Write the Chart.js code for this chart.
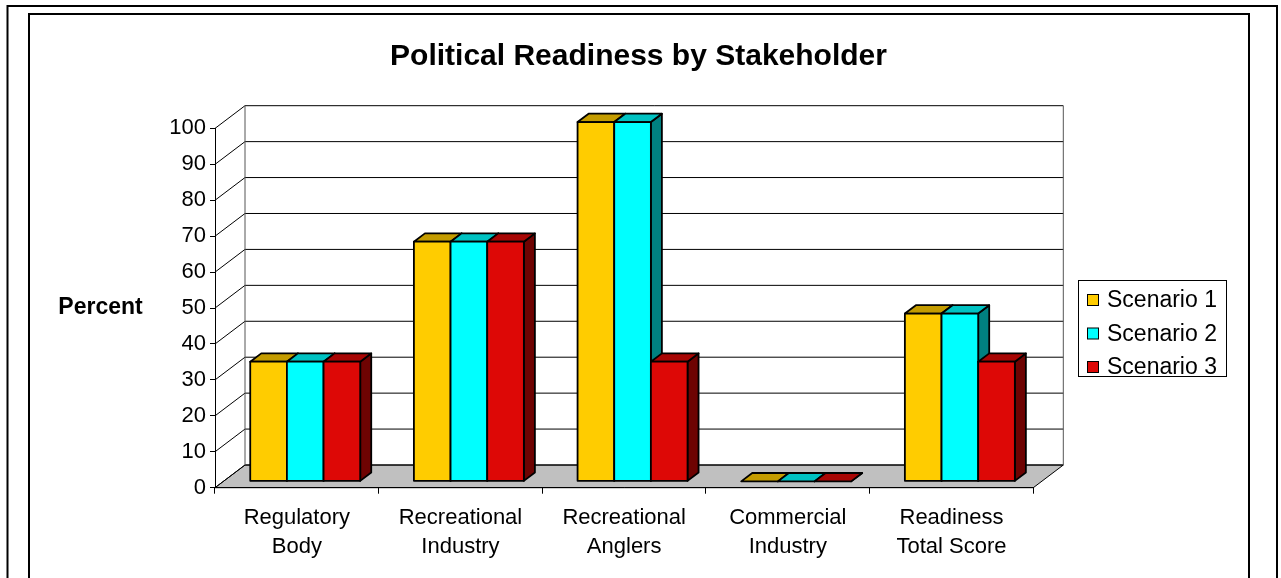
<!DOCTYPE html>
<html>
<head>
<meta charset="utf-8">
<script src="https://cdn.jsdelivr.net/npm/chart.js@4.4.1/dist/chart.umd.min.js"></script>
<style>
  html, body { margin: 0; padding: 0; background: #ffffff; }
  canvas { display: block; }
</style>
</head>
<body>
<canvas id="chart" width="1281" height="578"></canvas>
<script>
// ---- data ----
const categories = [
  ['Regulatory', 'Body'],
  ['Recreational', 'Industry'],
  ['Recreational', 'Anglers'],
  ['Commercial', 'Industry'],
  ['Readiness', 'Total Score']
];
const seriesNames = ['Scenario 1', 'Scenario 2', 'Scenario 3'];
const scenario1 = [33.3, 66.7, 100, 0, 46.7];
const scenario2 = [33.3, 66.7, 100, 0, 46.7];
const scenario3 = [33.3, 66.7, 33.3, 0, 33.3];
const yMin = 0, yMax = 100, yStep = 10;

const chartTitle = 'Political Readiness by Stakeholder';
const yTitle = 'Percent';

// ---- styling ----
const frontColors = ['#FFCC00', '#00FFFF', '#DD0806'];
const topColors   = ['#C49C00', '#00C2C2', '#A80604'];
const sideColors  = ['#7F6600', '#008080', '#6E0302'];
const FONT = '"Liberation Sans", Arial, sans-serif';

// oblique offset of the back wall from the front plane
const DEPTH_X = 30, DEPTH_Y = 22.7;
// where the bars sit inside that depth (fractions of it)
const BAR_FRONT = 0.28, BAR_DEPTH = 0.367;

const W = 1281, H = 578;
const plotLeft = 215, plotRight = 1033.3, plotTop = 128.4, plotBottom = 487.7;

function line(ctx, x1, y1, x2, y2) {
  ctx.beginPath();
  ctx.moveTo(x1, y1);
  ctx.lineTo(x2, y2);
  ctx.stroke();
}

const box3d = {
  id: 'box3d',
  beforeDraw(chart) {
    const { ctx, chartArea: a, scales: { y } } = chart;
    ctx.save();
    ctx.fillStyle = '#ffffff';
    ctx.fillRect(0, 0, chart.width, chart.height);

    // floor
    ctx.beginPath();
    ctx.moveTo(a.left, a.bottom);
    ctx.lineTo(a.right, a.bottom);
    ctx.lineTo(a.right + DEPTH_X, a.bottom - DEPTH_Y);
    ctx.lineTo(a.left + DEPTH_X, a.bottom - DEPTH_Y);
    ctx.closePath();
    ctx.fillStyle = '#C0C0C0';
    ctx.fill();
    ctx.strokeStyle = '#000';
    ctx.lineWidth = 1;
    ctx.stroke();

    // back wall grid and the diagonals joining it to the value axis
    y.ticks.forEach(t => {
      const py = y.getPixelForValue(t.value);
      line(ctx, a.left, py, a.left + DEPTH_X, py - DEPTH_Y);
      line(ctx, a.left + DEPTH_X, py - DEPTH_Y, a.right + DEPTH_X, py - DEPTH_Y);
    });
    // back wall side edges
    ctx.strokeStyle = '#555';
    line(ctx, a.left + DEPTH_X, a.top - DEPTH_Y, a.left + DEPTH_X, a.bottom - DEPTH_Y);
    line(ctx, a.right + DEPTH_X, a.top - DEPTH_Y, a.right + DEPTH_X, a.bottom - DEPTH_Y);
    ctx.restore();
  },
  beforeDatasetDraw() {
    // flat bars are replaced by the 3D blocks drawn below
    return false;
  },
  afterDatasetsDraw(chart) {
    const { ctx } = chart;
    const ox = BAR_FRONT * DEPTH_X, oy = BAR_FRONT * DEPTH_Y;
    const bx = BAR_DEPTH * DEPTH_X, by = BAR_DEPTH * DEPTH_Y;
    ctx.save();
    ctx.lineWidth = 1.8;
    ctx.strokeStyle = '#000';
    ctx.lineJoin = 'round';
    const n = chart.data.labels.length;
    for (let i = 0; i < n; i++) {
      chart.data.datasets.forEach((ds, d) => {
        const el = chart.getDatasetMeta(d).data[i];
        const l = el.x - el.width / 2 + ox;
        const r = el.x + el.width / 2 + ox;
        const t = el.y - oy;
        const b = el.base - oy;
        // side
        ctx.beginPath();
        ctx.moveTo(r, t); ctx.lineTo(r + bx, t - by); ctx.lineTo(r + bx, b - by); ctx.lineTo(r, b);
        ctx.closePath();
        ctx.fillStyle = sideColors[d]; ctx.fill(); ctx.stroke();
        // top
        ctx.beginPath();
        ctx.moveTo(l, t); ctx.lineTo(l + bx, t - by); ctx.lineTo(r + bx, t - by); ctx.lineTo(r, t);
        ctx.closePath();
        ctx.fillStyle = topColors[d]; ctx.fill(); ctx.stroke();
        // front
        if (b - t > 0.5) {
          ctx.beginPath();
          ctx.rect(l, t, r - l, b - t);
          ctx.fillStyle = frontColors[d]; ctx.fill(); ctx.stroke();
        }
      });
    }
    ctx.restore();
  },
  afterDraw(chart) {
    const { ctx } = chart;
    ctx.save();
    // title
    ctx.fillStyle = '#000';
    ctx.textAlign = 'center';
    ctx.textBaseline = 'middle';
    ctx.font = 'bold 30px ' + FONT;
    ctx.fillText(chartTitle, 638.5, 57);
    // value axis caption
    ctx.font = 'bold 23px ' + FONT;
    ctx.fillText(yTitle, 100.5, 308);

    // legend
    ctx.lineWidth = 1;
    ctx.strokeStyle = '#000';
    ctx.strokeRect(1078.5, 280.5, 148, 96);
    const rows = [300, 333.5, 367];
    ctx.textAlign = 'left';
    ctx.font = '23px ' + FONT;
    chart.data.datasets.forEach((ds, d) => {
      ctx.fillStyle = ds.backgroundColor;
      ctx.fillRect(1087.5, rows[d] - 5.5, 11, 11);
      ctx.strokeRect(1087.5, rows[d] - 5.5, 11, 11);
      ctx.fillStyle = '#000';
      ctx.fillText(ds.label, 1107, rows[d] + 1);
    });

    // frames
    ctx.lineWidth = 2;
    ctx.beginPath();
    ctx.moveTo(7.5, H); ctx.lineTo(7.5, 6); ctx.lineTo(1277, 6); ctx.lineTo(1277, H);
    ctx.stroke();
    ctx.beginPath();
    ctx.moveTo(29, H); ctx.lineTo(29, 14); ctx.lineTo(1249, 14); ctx.lineTo(1249, H);
    ctx.stroke();
    ctx.restore();
  }
};

const seriesValues = [scenario1, scenario2, scenario3];

new Chart(document.getElementById('chart'), {
  type: 'bar',
  data: {
    labels: categories,
    datasets: seriesNames.map((name, d) => ({
      label: name,
      data: seriesValues[d],
      backgroundColor: frontColors[d],
      borderColor: '#000',
      borderWidth: 1,
      categoryPercentage: 0.672,
      barPercentage: 1.0
    }))
  },
  options: {
    responsive: false,
    animation: false,
    events: [],
    layout: { padding: { top: plotTop, right: W - plotRight, bottom: 0, left: 0 } },
    plugins: {
      legend: { display: false },
      title: { display: false },
      tooltip: { enabled: false }
    },
    scales: {
      x: {
        afterFit: s => { s.height = H - plotBottom; },
        grid: { drawOnChartArea: false, drawTicks: true, tickLength: 6, color: '#000', offset: true },
        border: { display: true, color: '#000', width: 1 },
        ticks: {
          color: '#000',
          font: { family: FONT, size: 22, lineHeight: 1.32 },
          padding: 10,
          maxRotation: 0,
          autoSkip: false
        }
      },
      y: {
        min: yMin,
        max: yMax,
        afterFit: s => { s.width = plotLeft; },
        grid: { drawOnChartArea: false, drawTicks: true, tickLength: 5, color: '#000' },
        border: { display: true, color: '#000', width: 1 },
        ticks: {
          stepSize: yStep,
          color: '#000',
          font: { family: FONT, size: 22 },
          padding: 4
        }
      }
    }
  },
  plugins: [box3d]
});
</script>
</body>
</html>
